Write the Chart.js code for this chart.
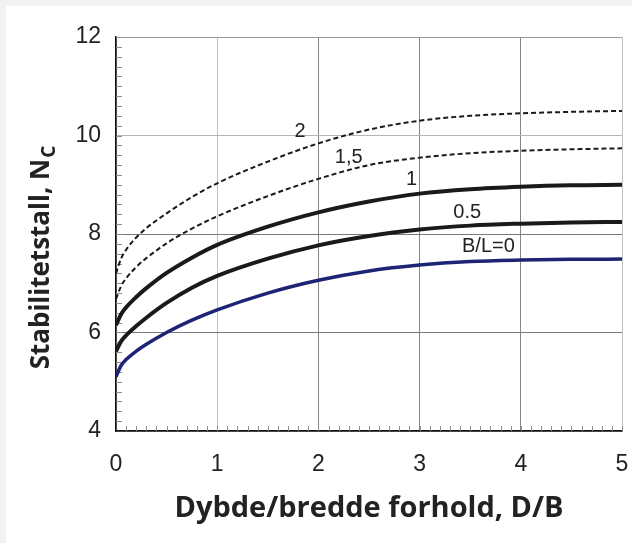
<!DOCTYPE html>
<html>
<head>
<meta charset="utf-8">
<script src="https://cdn.jsdelivr.net/npm/chart.js@4.4.1/dist/chart.umd.min.js"></script>
<style>
  body { margin: 0; background: #f1f3f3; }
  #wrap { position: absolute; left: 6px; top: 6px; width: 626px; height: 537px; background: #fff; }
</style>
</head>
<body>
<div id="wrap"><canvas id="chartNc"></canvas></div>
<script>
// D/B values where the curves were read
const dbValues = [0, 0.05, 0.1, 0.2, 0.3, 0.5, 0.75, 1, 1.5, 2, 2.5, 3, 3.5, 4, 4.5, 5];

// Nc for each B/L ratio
const ncBL0  = [5.10, 5.33, 5.45, 5.62, 5.76, 6.00, 6.25, 6.46, 6.80, 7.06, 7.25, 7.37, 7.44, 7.47, 7.485, 7.49];
const ncBL05 = [5.62, 5.82, 5.94, 6.13, 6.30, 6.60, 6.91, 7.15, 7.50, 7.77, 7.96, 8.09, 8.17, 8.21, 8.235, 8.245];
const ncBL1  = [6.15, 6.37, 6.51, 6.72, 6.90, 7.21, 7.52, 7.78, 8.15, 8.44, 8.66, 8.82, 8.91, 8.96, 8.99, 9.00];
const ncBL15 = [6.68, 6.94, 7.10, 7.33, 7.51, 7.81, 8.11, 8.36, 8.77, 9.12, 9.40, 9.55, 9.64, 9.69, 9.72, 9.74];
const ncBL2  = [7.20, 7.50, 7.68, 7.93, 8.12, 8.42, 8.75, 9.03, 9.47, 9.84, 10.12, 10.30, 10.40, 10.45, 10.48, 10.50];

// curve labels (text, D/B, Nc)
const curveLabels = [
  ["2", 1.82, 10.09],
  ["1,5", 2.30, 9.56],
  ["1", 2.92, 9.10],
  ["0.5", 3.47, 8.43],
  ["B/L=0", 3.68, 7.74]
];

const xTicks = [0, 1, 2, 3, 4, 5];
const yTicks = [4, 6, 8, 10, 12];

const pts = arr => arr.map((v, i) => ({ x: dbValues[i], y: v }));

function curve(label, data, color, width, dash) {
  return {
    label: label,
    data: pts(data),
    borderColor: color,
    borderWidth: width,
    borderDash: dash,
    pointRadius: 0,
    cubicInterpolationMode: "monotone",
    fill: false
  };
}

const extras = {
  id: "extras",
  beforeDatasetsDraw(chart) {
    const ctx = chart.ctx;
    const xs = chart.scales.x, ys = chart.scales.y;
    const left = xs.left, bottom = ys.bottom;
    ctx.save();
    ctx.strokeStyle = "#8c8c8c";
    ctx.lineWidth = 1;
    ctx.beginPath();
    for (let v = 4.2; v < 12; v += 0.2) {
      const py = Math.round(ys.getPixelForValue(v)) + 0.5;
      ctx.moveTo(left, py);
      ctx.lineTo(left + 6, py);
    }
    for (let v = 0.1; v < 5; v += 0.1) {
      const px = Math.round(xs.getPixelForValue(v)) + 0.5;
      ctx.moveTo(px, bottom);
      ctx.lineTo(px, bottom - 5);
    }
    ctx.stroke();
    ctx.restore();
  },
  afterDraw(chart) {
    const ctx = chart.ctx;
    const xs = chart.scales.x, ys = chart.scales.y;
    ctx.save();
    ctx.fillStyle = "#222";
    ctx.font = "20px 'Liberation Sans', Arial, sans-serif";
    ctx.textAlign = "center";
    ctx.textBaseline = "middle";
    curveLabels.forEach(([t, x, y]) => {
      ctx.fillText(t, xs.getPixelForValue(x), ys.getPixelForValue(y));
    });

    // y axis title with subscript
    const main = "Stabilitetstall, N";
    const sub = "C";
    ctx.font = "bold 26px 'Open Sans', sans-serif";
    const w1 = ctx.measureText(main).width;
    ctx.font = "bold 19px 'Open Sans', sans-serif";
    const w2 = ctx.measureText(sub).width;
    const total = w1 + w2;
    ctx.translate(34, (ys.top + ys.bottom) / 2 + 24);
    ctx.rotate(-Math.PI / 2);
    ctx.textAlign = "left";
    ctx.textBaseline = "alphabetic";
    ctx.fillStyle = "#222";
    ctx.font = "bold 26px 'Open Sans', sans-serif";
    ctx.fillText(main, -total / 2, 9);
    ctx.font = "bold 19px 'Open Sans', sans-serif";
    ctx.fillText(sub, -total / 2 + w1 + 1, 15);
    ctx.restore();
  }
};

const ctxNc = document.getElementById("chartNc").getContext("2d");
const chartNc = new Chart(ctxNc, {
  type: "line",
  data: {
    datasets: [
      curve("B/L=0", ncBL0, "#1d2375", 3.5, []),
      curve("0.5", ncBL05, "#1a1a1a", 4, []),
      curve("1", ncBL1, "#1a1a1a", 4, []),
      curve("1,5", ncBL15, "#1a1a1a", 2, [5, 3]),
      curve("2", ncBL2, "#1a1a1a", 2, [5, 3])
    ]
  },
  options: {
    responsive: true,
    maintainAspectRatio: false,
    animation: false,
    layout: { padding: { top: 31, right: 10, left: 0, bottom: 0 } },
    plugins: { legend: { display: false }, tooltip: { enabled: false } },
    scales: {
      x: {
        type: "linear",
        min: 0,
        max: 5,
        afterFit: s => { s.height = 112; s.paddingRight = 0; s.paddingLeft = 0; },
        afterBuildTicks: s => { s.ticks = xTicks.map(v => ({ value: v })); },
        ticks: {
          padding: 20,
          color: "#222",
          font: { family: "'Liberation Sans', Arial, sans-serif", size: 23 }
        },
        grid: {
          drawTicks: false,
          color: c => (c.tick && (c.tick.value === 1 || c.tick.value === 5)) ? "#c2c2c2" : "#858585",
          lineWidth: 1
        },
        border: { color: "#111", width: 1.5 },
        title: {
          display: true,
          text: "Dybde/bredde forhold, D/B",
          color: "#222",
          font: { family: "'Open Sans', sans-serif", size: 29, weight: "bold" },
          padding: { top: 0, bottom: 17 }
        }
      },
      y: {
        type: "linear",
        min: 4,
        max: 12,
        afterFit: s => { s.width = 110; s.paddingTop = 0; s.paddingBottom = 0; },
        afterBuildTicks: s => { s.ticks = yTicks.map(v => ({ value: v })); },
        ticks: {
          padding: 15,
          color: "#222",
          font: { family: "'Liberation Sans', Arial, sans-serif", size: 23 }
        },
        grid: {
          drawTicks: false,
          color: c => (c.tick && c.tick.value === 10) ? "#b5b5b5" : (c.tick && c.tick.value === 12 ? "#9a9a9a" : "#7a7a7a"),
          lineWidth: 1
        },
        border: { color: "#111", width: 1.5 }
      }
    }
  },
  plugins: [extras]
});
</script>
</body>
</html>
